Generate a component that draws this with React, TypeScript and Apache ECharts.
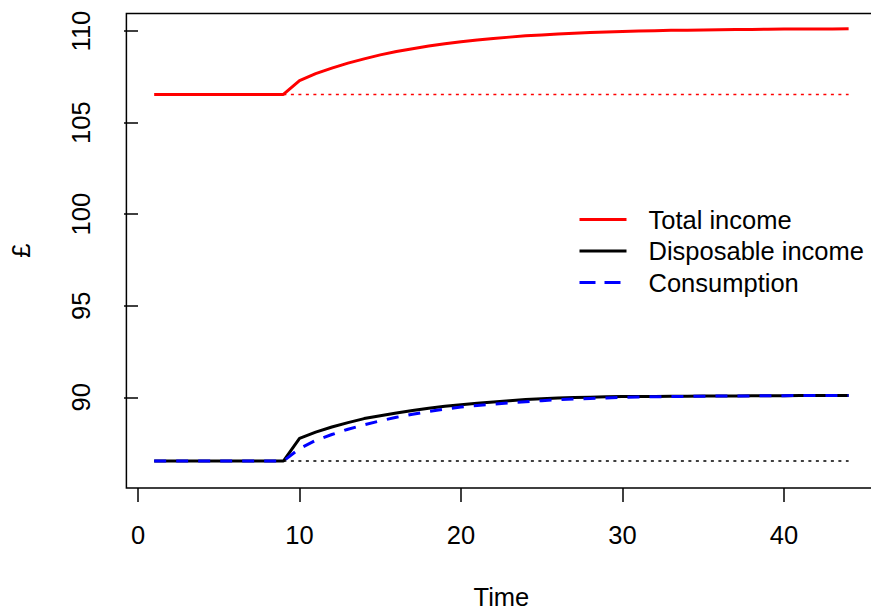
import React, { useEffect, useRef } from "react";
import * as echarts from "echarts";

// Time steps of the simulation
const time = [
  1, 2, 3, 4, 5, 6, 7, 8, 9, 10, 11, 12, 13, 14, 15, 16, 17, 18, 19, 20, 21, 22,
  23, 24, 25, 26, 27, 28, 29, 30, 31, 32, 33, 34, 35, 36, 37, 38, 39, 40, 41, 42,
  43, 44,
];

const totalIncome = [
  106.54, 106.54, 106.54, 106.54, 106.54, 106.54, 106.54, 106.54, 106.54,
  107.3, 107.68, 107.98, 108.25, 108.48, 108.7, 108.88, 109.04, 109.18, 109.31,
  109.42, 109.51, 109.6, 109.67, 109.74, 109.79, 109.84, 109.88, 109.92, 109.95,
  109.98, 110.0, 110.02, 110.04, 110.05, 110.06, 110.07, 110.08, 110.09, 110.1,
  110.11, 110.11, 110.12, 110.12, 110.13,
];

const disposableIncome = [
  86.52, 86.52, 86.52, 86.52, 86.52, 86.52, 86.52, 86.52, 86.52,
  87.76, 88.1, 88.38, 88.62, 88.84, 89.0, 89.15, 89.28, 89.4, 89.51, 89.6,
  89.68, 89.75, 89.82, 89.88, 89.92, 89.96, 89.99, 90.01, 90.03, 90.04, 90.05,
  90.05, 90.06, 90.06, 90.07, 90.08, 90.08, 90.09, 90.09, 90.09, 90.1, 90.1,
  90.1, 90.1,
];

const consumption = [
  86.52, 86.52, 86.52, 86.52, 86.52, 86.52, 86.52, 86.52, 86.52,
  87.2, 87.65, 87.97, 88.26, 88.5, 88.72, 88.91, 89.08, 89.23, 89.36, 89.47,
  89.56, 89.63, 89.7, 89.76, 89.82, 89.87, 89.91, 89.94, 89.97, 90.0, 90.02,
  90.03, 90.04, 90.05, 90.06, 90.07, 90.08, 90.08, 90.09, 90.09, 90.1, 90.1,
  90.1, 90.1,
];

// Pre-shock levels, drawn as dotted reference lines from the shock onwards
const baselineTime = [9, 44];
const totalIncomeBase = [106.54, 106.54];
const disposableIncomeBase = [86.52, 86.52];

const xTicks = [0, 10, 20, 30, 40];
const yTicks = [90, 95, 100, 105, 110];

const seriesNames = ["Total income", "Disposable income", "Consumption"];

const FONT = "'Liberation Sans', Arial, sans-serif";
const FS = 25.5;

const pairs = (xs: number[], ys: number[]) => xs.map((x, i) => [x, ys[i]]);

export default function App() {
  const ref = useRef<HTMLDivElement>(null);

  useEffect(() => {
    if (!ref.current) return;
    const chart = echarts.init(ref.current, undefined, { renderer: "svg" });
    chart.setOption({
      animation: false,
      backgroundColor: "#ffffff",
      textStyle: { fontFamily: FONT },
      grid: {
        left: 126.4,
        right: 23.6,
        top: 13.5,
        bottom: 122,
        containLabel: false,
        outerBoundsMode: "none",
        show: true,
        borderColor: "#000",
        borderWidth: 1.5,
        backgroundColor: "transparent",
      },
      legend: {
        data: [
          { name: seriesNames[0] },
          { name: seriesNames[1] },
          { name: seriesNames[2], lineStyle: { type: [16, 9] } },
        ],
        orient: "vertical",
        left: 578,
        top: 206.5,
        padding: 0,
        itemWidth: 47,
        itemHeight: 14,
        itemGap: 5.5,
        itemStyle: { opacity: 0 },
        lineStyle: { width: 3 },
        textStyle: {
          fontFamily: FONT,
          fontSize: FS,
          lineHeight: 25.5,
          color: "#000",
          padding: [0, 0, 0, 17],
        },
      },
      xAxis: {
        type: "value",
        min: -0.72,
        max: 45.72,
        name: "Time",
        nameLocation: "middle",
        nameGap: 109,
        nameTextStyle: {
          fontFamily: FONT,
          fontSize: FS,
          color: "#000",
          verticalAlign: "middle",
        },
        axisLine: { show: false },
        splitLine: { show: false },
        axisTick: {
          show: true,
          length: 14,
          customValues: xTicks,
          lineStyle: { color: "#000", width: 1.5 },
        },
        axisLabel: {
          customValues: xTicks,
          margin: 47,
          fontFamily: FONT,
          fontSize: FS,
          color: "#000",
          verticalAlign: "middle",
        },
      },
      yAxis: {
        type: "value",
        min: 85.05,
        max: 110.96,
        name: "£",
        nameLocation: "middle",
        nameGap: 105.5,
        nameRotate: 90,
        nameTextStyle: {
          fontFamily: FONT,
          fontSize: FS,
          color: "#000",
          verticalAlign: "middle",
        },
        axisLine: { show: false },
        splitLine: { show: false },
        axisTick: {
          show: true,
          length: 14,
          customValues: yTicks,
          lineStyle: { color: "#000", width: 1.5 },
        },
        axisLabel: {
          customValues: yTicks,
          rotate: 90,
          margin: 45,
          fontFamily: FONT,
          fontSize: FS,
          color: "#000",
          verticalAlign: "middle",
          align: "center",
        },
      },
      series: [
        {
          name: "Total income base",
          type: "line",
          data: pairs(baselineTime, totalIncomeBase),
          symbol: "none",
          lineStyle: { color: "#ff0000", width: 1.5, type: [3, 4.5] },
          z: 1,
        },
        {
          name: "Disposable income base",
          type: "line",
          data: pairs(baselineTime, disposableIncomeBase),
          symbol: "none",
          lineStyle: { color: "#000", width: 1.5, type: [3, 4.5] },
          z: 1,
        },
        {
          name: seriesNames[0],
          type: "line",
          data: pairs(time, totalIncome),
          symbol: "none",
          color: "#ff0000",
          lineStyle: { color: "#ff0000", width: 3 },
          z: 2,
        },
        {
          name: seriesNames[1],
          type: "line",
          data: pairs(time, disposableIncome),
          symbol: "none",
          color: "#000",
          lineStyle: { color: "#000", width: 3 },
          z: 3,
        },
        {
          name: seriesNames[2],
          type: "line",
          data: pairs(time, consumption),
          symbol: "none",
          color: "#0000ff",
          lineStyle: { color: "#0000ff", width: 3, type: [12, 10] },
          z: 4,
        },
      ],
    });
    return () => chart.dispose();
  }, []);

  return (
    <div
      style={{
        position: "fixed",
        left: 0,
        top: 0,
        width: 871,
        height: 610,
        overflow: "hidden",
        background: "#fff",
      }}
    >
      <div ref={ref} style={{ width: 900, height: 610 }} />
    </div>
  );
}
